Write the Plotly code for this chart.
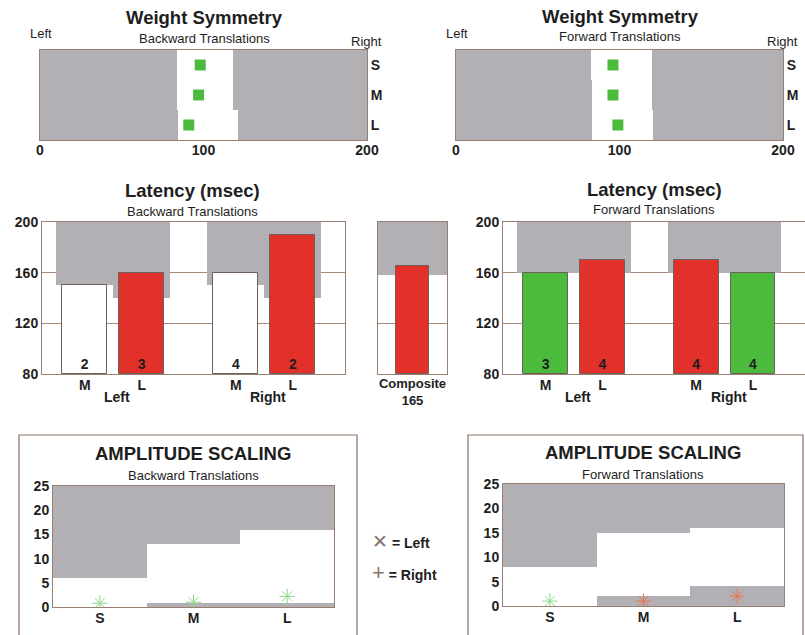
import plotly.graph_objects as go

# ---------------- data ----------------
ws_rows = ["S", "M", "L"]
ws_back_values = [98, 97, 91]
ws_back_norm_low = [84, 84, 84.5]
ws_back_norm_high = [118, 118, 121]
ws_fwd_values = [96, 96, 99]
ws_fwd_norm_low = [82.5, 83, 83]
ws_fwd_norm_high = [120, 120, 120.5]

lat_sides = ["Left", "Right"]
lat_sizes = ["M", "L", "M", "L"]
lat_back_values = [150, 160, 160, 190]
lat_back_counts = [2, 3, 4, 2]
lat_back_status = ["none", "abnormal", "none", "abnormal"]
lat_back_norm = [150, 140, 150, 140]
lat_composite = 165
lat_composite_norm = 158
lat_fwd_values = [160, 170, 170, 160]
lat_fwd_counts = [3, 4, 4, 4]
lat_fwd_status = ["normal", "abnormal", "abnormal", "normal"]
lat_fwd_norm = [160, 160, 160, 160]

amp_sizes = ["S", "M", "L"]
amp_back_upper = [6, 13, 16]
amp_back_lower = [0, 0.8, 0.8]
amp_back_left = [0.8, 1.0, 2.2]
amp_back_right = [0.8, 1.0, 2.2]
amp_back_status = ["normal", "normal", "normal"]
amp_fwd_upper = [8, 15, 16]
amp_fwd_lower = [0, 2, 4]
amp_fwd_left = [1.0, 1.0, 2.0]
amp_fwd_right = [1.0, 1.0, 2.0]
amp_fwd_status = ["normal", "abnormal", "abnormal"]

# ---------------- style ----------------
W, H = 805, 635
FONT = "Liberation Sans, Arial, sans-serif"
GRAY = "#b2b0b5"
FRAME = "#9a7f70"
GRID = "#a58a7a"
TXT = "#1e1e1e"
BAR_COLORS = {"none": "#ffffff", "abnormal": "#e2302a", "normal": "#4cbb3d"}
MARK_COLORS = {"normal": "#8ad884", "abnormal": "#e8764a"}


def dx(a, b):
    return [max(0, a / W), min(1, b / W)]


def dy(top, bottom):
    return [max(0, 1 - bottom / H), min(1, 1 - top / H)]


def px(x, y):
    return x / W, 1 - y / H


fig = go.Figure()

# ---------- Weight symmetry ----------
def weight_panel(xa, ya, values, low, high):
    fig.add_trace(go.Bar(y=ws_rows, x=[200] * 3, base=[0] * 3, orientation="h",
                         width=1.0, marker=dict(color=GRAY, line=dict(width=0)),
                         xaxis=xa, yaxis=ya, hoverinfo="skip"))
    fig.add_trace(go.Bar(y=ws_rows, x=[h - l for l, h in zip(low, high)], base=low,
                         orientation="h", width=1.0,
                         marker=dict(color="white", line=dict(width=0)),
                         xaxis=xa, yaxis=ya, hoverinfo="skip"))
    fig.add_trace(go.Scatter(y=ws_rows, x=values, mode="markers",
                             marker=dict(symbol="square", size=11, color="#4cbb3d"),
                             xaxis=xa, yaxis=ya, hoverinfo="skip"))


weight_panel("x", "y", ws_back_values, ws_back_norm_low, ws_back_norm_high)
weight_panel("x2", "y2", ws_fwd_values, ws_fwd_norm_low, ws_fwd_norm_high)

# ---------- Latency ----------
lat_x = [0.75, 1.75, 3.4, 4.4]
LAT_RANGE = [0, 5.316]


def latency_panel(xa, ya, values, counts, status, norm):
    fig.add_trace(go.Bar(x=lat_x, y=[200 - n for n in norm], base=norm, width=1.0,
                         marker=dict(color=GRAY, line=dict(width=0)),
                         xaxis=xa, yaxis=ya, hoverinfo="skip"))
    fig.add_trace(go.Bar(x=lat_x, y=[v - 80 for v in values], base=[80] * 4, width=0.79,
                         marker=dict(color=[BAR_COLORS[s] for s in status],
                                     line=dict(color="#6e5f58", width=1)),
                         xaxis=xa, yaxis=ya, hoverinfo="skip"))
    fig.add_trace(go.Scatter(x=lat_x, y=[86.5] * 4, mode="text", text=[str(c) for c in counts],
                             textfont=dict(size=14, color=TXT, family=FONT, weight="bold"),
                             xaxis=xa, yaxis=ya, hoverinfo="skip"))


latency_panel("x3", "y3", lat_back_values, lat_back_counts, lat_back_status, lat_back_norm)
latency_panel("x5", "y5", lat_fwd_values, lat_fwd_counts, lat_fwd_status, lat_fwd_norm)

# composite
fig.add_trace(go.Bar(x=[0.5], y=[200 - lat_composite_norm], base=[lat_composite_norm], width=1.0,
                     marker=dict(color=GRAY, line=dict(width=0)), xaxis="x4", yaxis="y4",
                     hoverinfo="skip"))
fig.add_trace(go.Bar(x=[0.5], y=[lat_composite - 80], base=[80], width=0.48,
                     marker=dict(color=BAR_COLORS["abnormal"], line=dict(color="#6e5f58", width=1)),
                     xaxis="x4", yaxis="y4", hoverinfo="skip"))

# ---------- Amplitude scaling ----------
amp_x = [0, 1, 2]


def amp_panel(xa, ya, upper, lower, left, right, status):
    fig.add_trace(go.Bar(x=amp_x, y=[25 - u for u in upper], base=upper, width=1.0,
                         marker=dict(color=GRAY, line=dict(width=0)),
                         xaxis=xa, yaxis=ya, hoverinfo="skip"))
    fig.add_trace(go.Bar(x=amp_x, y=lower, base=[0] * 3, width=1.0,
                         marker=dict(color=GRAY, line=dict(width=0)),
                         xaxis=xa, yaxis=ya, hoverinfo="skip"))
    cols = [MARK_COLORS[s] for s in status]
    fig.add_trace(go.Scatter(x=amp_x, y=left, mode="markers",
                             marker=dict(symbol="x-thin", size=10, color=cols,
                                         line=dict(color=cols, width=1)),
                             xaxis=xa, yaxis=ya, hoverinfo="skip"))
    fig.add_trace(go.Scatter(x=amp_x, y=right, mode="markers",
                             marker=dict(symbol="cross-thin", size=11, color=cols,
                                         line=dict(color=cols, width=1)),
                             xaxis=xa, yaxis=ya, hoverinfo="skip"))


amp_panel("x6", "y6", amp_back_upper, amp_back_lower, amp_back_left, amp_back_right, amp_back_status)
amp_panel("x7", "y7", amp_fwd_upper, amp_fwd_lower, amp_fwd_left, amp_fwd_right, amp_fwd_status)

# ---------------- axes ----------------
tf = dict(family=FONT, size=14, color=TXT, weight="bold")
frame = dict(showline=True, linecolor=FRAME, linewidth=1, mirror=True, zeroline=False,
             fixedrange=True, automargin=False)

layout = dict(
    width=W, height=H, margin=dict(l=0, r=0, t=0, b=0, pad=0, autoexpand=False),
    paper_bgcolor="white", plot_bgcolor="white",
    barmode="overlay", bargap=0, showlegend=False,
    font=dict(family=FONT, color=TXT),
)

# weight symmetry axes
for i, xd in zip(["", "2"], [dx(40, 367), dx(456, 783)]):
    layout["xaxis" + i] = dict(domain=xd, range=[0, 200], tickvals=[0, 100, 200],
                               showgrid=False, ticks="", tickfont=tf, ticklabelstandoff=-3,
                               anchor="y" + i, **frame)
    layout["yaxis" + i] = dict(domain=dy(50, 140), type="category",
                               categoryorder="array", categoryarray=ws_rows,
                               range=[2.5, -0.5], side="right", showgrid=False,
                               ticks="", tickfont=tf, anchor="x" + i, **frame)

# latency axes
for i, xd in zip(["3", "5"], [dx(42, 345), dx(503, 805)]):
    layout["xaxis" + i] = dict(domain=xd, range=LAT_RANGE, tickvals=lat_x, ticktext=lat_sizes,
                               showgrid=False, ticks="", tickfont=tf, ticklabelstandoff=-2,
                               anchor="y" + i, **frame)
    layout["yaxis" + i] = dict(domain=dy(222, 374), range=[80, 200],
                               tickvals=[80, 120, 160, 200], showgrid=True, gridcolor=GRID,
                               gridwidth=1, ticks="", tickfont=tf, anchor="x" + i, **frame)
layout["xaxis4"] = dict(domain=dx(378, 447), range=[0, 1], tickvals=[0.5],
                        ticktext=["Composite<br>" + str(lat_composite)], showgrid=False,
                        ticks="", tickfont=dict(family=FONT, size=13, color=TXT, weight="bold"),
                        ticklabelstandoff=-3, anchor="y4", **frame)
layout["yaxis4"] = dict(domain=dy(222, 374), range=[80, 200], tickvals=[80, 120, 160, 200],
                        showticklabels=False, showgrid=True, gridcolor=GRID, ticks="",
                        anchor="x4", **frame)

# amplitude axes
for i, xd, yd in zip(["6", "7"], [dx(53, 334), dx(503, 784)], [dy(486, 607), dy(484, 606)]):
    layout["xaxis" + i] = dict(domain=xd, range=[-0.5, 2.5], tickvals=amp_x, ticktext=amp_sizes,
                               showgrid=False, ticks="", tickfont=tf, ticklabelstandoff=-2,
                               anchor="y" + i, **frame)
    layout["yaxis" + i] = dict(domain=yd, range=[0, 25], tickvals=[0, 5, 10, 15, 20, 25],
                               showgrid=False, ticks="", tickfont=tf, anchor="x" + i, **frame)

fig.update_layout(**layout)

# ---------------- boxes ----------------
for x0, x1 in [(19, 357), (468, 803)]:
    a0, b0 = px(x0, 435)
    a1, b1 = px(x1, 640)
    fig.add_shape(type="rect", xref="paper", yref="paper", x0=a0, x1=a1, y0=b1, y1=b0,
                  line=dict(color="#8a7060", width=1.2), fillcolor="rgba(0,0,0,0)", layer="below")

# ---------------- texts ----------------
def note(text, x, y, size=13, bold=False, xanchor="center"):
    ax, ay = px(x, y)
    fig.add_annotation(text=("<b>%s</b>" % text) if bold else text, x=ax, y=ay,
                       xref="paper", yref="paper", showarrow=False, xanchor=xanchor,
                       yanchor="middle", font=dict(family=FONT, size=size, color=TXT))


note("Weight Symmetry", 204, 17, 18.5, True)
note("Backward Translations", 204, 38, 13)
note("Left", 41, 34, 13)
note("Right", 366, 42, 13)
note("Weight Symmetry", 620, 16, 18.5, True)
note("Forward Translations", 620, 37, 13)
note("Left", 457, 34, 13)
note("Right", 782, 41, 13)

note("Latency (msec)", 192, 190, 18.5, True)
note("Backward Translations", 192, 211, 13)
note("Latency (msec)", 654, 189, 18.5, True)
note("Forward Translations", 654, 209, 13)

for xa in ["x3", "x5"]:
    for k, side in enumerate(lat_sides):
        gx = (lat_x[2 * k] + lat_x[2 * k + 1]) / 2 + 0.07
        fig.add_annotation(text="<b>" + side + "</b>", x=gx, xref=xa, y=1 - 397 / H, yref="paper",
                           showarrow=False, yanchor="middle",
                           font=dict(family=FONT, size=14, color=TXT))

note("AMPLITUDE SCALING", 193, 453, 18.5, True)
note("Backward Translations", 193, 475, 13)
note("AMPLITUDE SCALING", 643, 452, 18.5, True)
note("Forward Translations", 643, 474, 13)

note("<span style='color:#857570;font-size:19px'>\u2715</span><b> = Left</b>", 370, 541, 14, False, "left")
note("<span style='color:#857570;font-size:22px'>+</span><b> = Right</b>", 370, 572, 14, False, "left")

fig.write_html("out.html", config={"displayModeBar": False},
               post_script="document.body.style.margin='0';document.body.style.overflow='hidden';")
